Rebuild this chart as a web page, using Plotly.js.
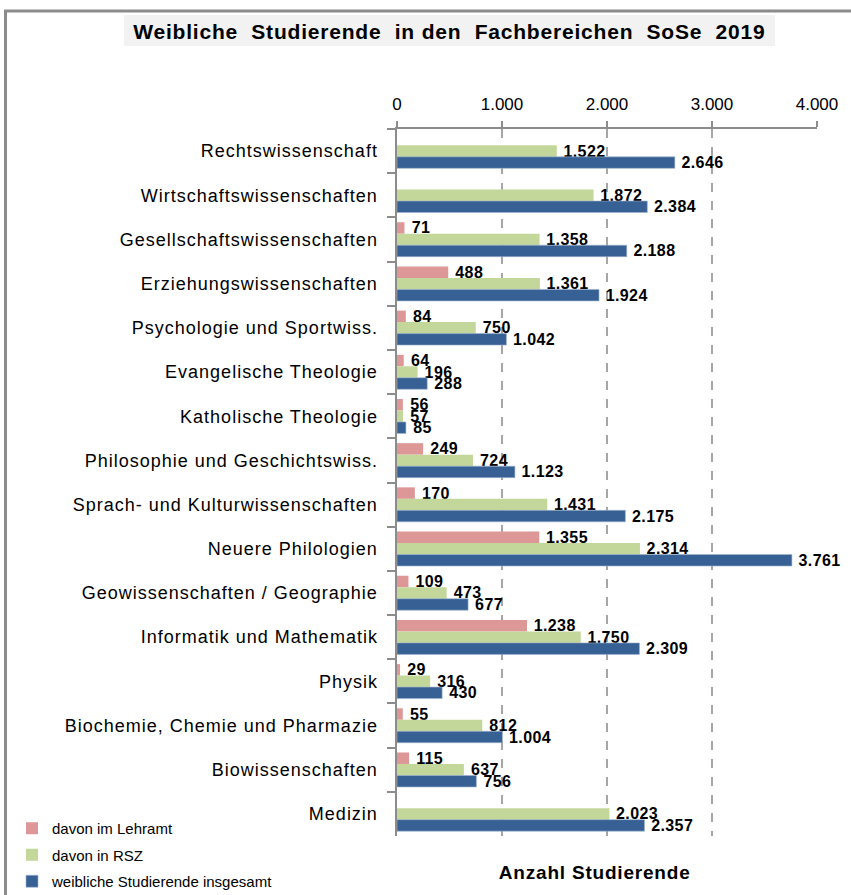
<!DOCTYPE html>
<html>
<head>
<meta charset="utf-8">
<script src="https://cdn.plot.ly/plotly-3.0.1.min.js"></script>
<style>
html,body{margin:0;padding:0;background:#fff;}
#chart{width:851px;height:895px;}
#chart .ytick text{letter-spacing:1px;}
#chart .annotation-text{letter-spacing:0.8px;}
#chart .bartext{letter-spacing:0.4px;}
</style>
</head>
<body>
<div id="chart"></div>
<script>
var categories = [
  "Rechtswissenschaft",
  "Wirtschaftswissenschaften",
  "Gesellschaftswissenschaften",
  "Erziehungswissenschaften",
  "Psychologie und Sportwiss.",
  "Evangelische Theologie",
  "Katholische Theologie",
  "Philosophie und Geschichtswiss.",
  "Sprach- und Kulturwissenschaften",
  "Neuere Philologien",
  "Geowissenschaften / Geographie",
  "Informatik und Mathematik",
  "Physik",
  "Biochemie, Chemie und Pharmazie",
  "Biowissenschaften",
  "Medizin"
];
var lehramt = [null, null, 71, 488, 84, 64, 56, 249, 170, 1355, 109, 1238, 29, 55, 115, null];
var rsz = [1522, 1872, 1358, 1361, 750, 196, 57, 724, 1431, 2314, 473, 1750, 316, 812, 637, 2023];
var insgesamt = [2646, 2384, 2188, 1924, 1042, 288, 85, 1123, 2175, 3761, 677, 2309, 430, 1004, 756, 2357];
var seriesNames = ["davon im Lehramt", "davon in RSZ", "weibliche Studierende insgesamt"];
var xTicks = [0, 1000, 2000, 3000, 4000];

var colors = ["#dc9796", "#c4d79b", "#376194"];
var font = "Liberation Sans, Arial, sans-serif";
var seriesData = [lehramt, rsz, insgesamt];

var traces = seriesData.map(function (vals, i) {
  return {
    type: "bar",
    orientation: "h",
    name: seriesNames[i],
    legendgroup: "g" + i,
    y: categories,
    x: vals,
    marker: {color: colors[i], line: {width: i === 2 ? 0.6 : 0, color: "#9fb3cf"}},
    texttemplate: "\u00a0%{x:,d}",
    textposition: "outside",
    constraintext: "none",
    cliponaxis: false,
    textfont: {family: font, size: 16, color: "#000", weight: "bold"},
    hoverinfo: "x+y"
  };
});

// plot area: x 397..817, y 129..836
function px(x) { return (x - 397) / 420; }
function py(y) { return (836 - y) / 707; }

var layout = {
  width: 851,
  height: 895,
  margin: {l: 397, r: 34, t: 129, b: 59, autoexpand: false},
  paper_bgcolor: "#fff",
  plot_bgcolor: "#fff",
  separators: ",.",
  barmode: "group",
  bargap: 0.22,
  bargroupgap: 0,
  font: {family: font, color: "#000"},
  showlegend: true,
  legend: {
    x: px(12), xanchor: "left",
    y: py(812), yanchor: "top",
    traceorder: "grouped",
    tracegroupgap: 4,
    font: {family: font, size: 15, color: "#000"},
    bgcolor: "rgba(0,0,0,0)",
    itemwidth: 30
  },
  xaxis: {
    side: "top",
    range: [0, 4000],
    tickvals: xTicks,
    tickformat: ",d",
    ticks: "outside",
    ticklen: 6,
    tickwidth: 2,
    tickcolor: "#8c8c8c",
    showline: true,
    linecolor: "#8c8c8c",
    linewidth: 2.5,
    showgrid: true,
    gridcolor: "#a6a6a6",
    gridwidth: 2,
    griddash: "dash",
    zeroline: false,
    tickfont: {family: font, size: 17, color: "#000"},
    ticklabelstandoff: 4,
    fixedrange: true
  },
  yaxis: {
    type: "category",
    autorange: "reversed",
    showline: true,
    linecolor: "#8c8c8c",
    linewidth: 2.5,
    ticks: "outside",
    tickson: "boundaries",
    ticklen: 8,
    tickwidth: 2,
    tickcolor: "#8c8c8c",
    showgrid: false,
    zeroline: false,
    tickfont: {family: font, size: 18, color: "#000"},
    ticklabelstandoff: 13,
    fixedrange: true
  },
  shapes: [
    {type: "rect", xref: "paper", yref: "paper",
     x0: px(5.5), x1: px(870), y0: py(910), y1: py(11),
     line: {color: "#8c8c8c", width: 3}, fillcolor: "rgba(0,0,0,0)", layer: "below"},
    {type: "rect", xref: "paper", yref: "paper",
     x0: px(124), x1: px(775), y0: py(46), y1: py(15),
     line: {width: 0}, fillcolor: "#f2f2f2", layer: "below"}
  ],
  annotations: [
    {xref: "paper", yref: "paper", x: px(449), y: py(31), xanchor: "center", yanchor: "middle",
     showarrow: false, text: "Weibliche  Studierende  in den  Fachbereichen  SoSe  2019",
     font: {family: font, size: 21, color: "#000", weight: "bold"}},
    {xref: "paper", yref: "paper", x: px(594), y: py(872), xanchor: "center", yanchor: "middle",
     showarrow: false, text: "Anzahl Studierende",
     font: {family: font, size: 19, color: "#000", weight: "bold"}}
  ]
};

Plotly.newPlot("chart", traces, layout, {displayModeBar: false, staticPlot: true});
</script>
</body>
</html>
